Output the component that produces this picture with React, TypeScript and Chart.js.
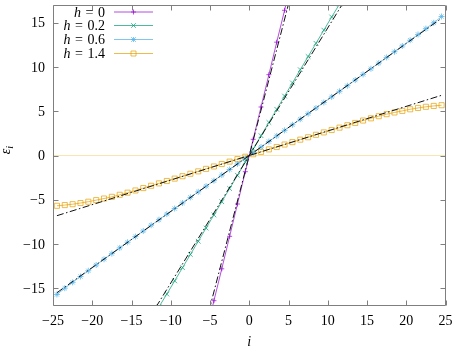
import React, { useEffect, useRef } from "react";
import { Chart, registerables } from "chart.js";

Chart.register(...registerables);

// lattice sites
const iValues = [
  -24.5, -23.5, -22.5, -21.5, -20.5, -19.5, -18.5, -17.5, -16.5, -15.5, -14.5, -13.5, -12.5,
  -11.5, -10.5, -9.5, -8.5, -7.5, -6.5, -5.5, -4.5, -3.5, -2.5, -1.5, -0.5,
  0.5, 1.5, 2.5, 3.5, 4.5, 5.5, 6.5, 7.5, 8.5, 9.5, 10.5, 11.5, 12.5,
  13.5, 14.5, 15.5, 16.5, 17.5, 18.5, 19.5, 20.5, 21.5, 22.5, 23.5, 24.5,
];

// h = 0
const epsH0 = [
  -89.4, -85.8, -82.1, -78.5, -74.8, -71.2, -67.5, -63.9, -60.2, -56.6, -52.9, -49.3, -45.6,
  -42.0, -38.3, -34.7, -31.0, -27.4, -23.7, -20.1, -16.4, -12.8, -9.13, -5.48, -1.83,
  1.83, 5.48, 9.13, 12.8, 16.4, 20.1, 23.7, 27.4, 31.0, 34.7, 38.3, 42.0, 45.6,
  49.3, 52.9, 56.6, 60.2, 63.9, 67.5, 71.2, 74.8, 78.5, 82.1, 85.8, 89.4,
];

// h = 0.2
const epsH02 = [
  -36.5, -35.0, -33.5, -32.0, -30.5, -29.1, -27.6, -26.1, -24.6, -23.1, -21.6, -20.1, -18.6,
  -17.1, -15.65, -14.16, -12.67, -11.18, -9.69, -8.2, -6.71, -5.22, -3.73, -2.24, -0.75,
  0.75, 2.24, 3.73, 5.22, 6.71, 8.2, 9.69, 11.18, 12.67, 14.16, 15.65, 17.1, 18.6,
  20.1, 21.6, 23.1, 24.6, 26.1, 27.6, 29.1, 30.5, 32.0, 33.5, 35.0, 36.5,
];

// h = 0.6
const epsH06 = [
  -15.7, -14.99, -14.33, -13.67, -13.02, -12.37, -11.72, -11.08, -10.44, -9.8, -9.16, -8.52, -7.88,
  -7.25, -6.62, -5.99, -5.36, -4.73, -4.1, -3.47, -2.84, -2.21, -1.58, -0.95, -0.32,
  0.32, 0.95, 1.58, 2.21, 2.84, 3.47, 4.1, 4.73, 5.36, 5.99, 6.62, 7.25, 7.88,
  8.52, 9.16, 9.8, 10.44, 11.08, 11.72, 12.37, 13.02, 13.67, 14.33, 14.99, 15.7,
];

// h = 1.4
const epsH14 = [
  -5.68, -5.6, -5.5, -5.37, -5.22, -5.04, -4.86, -4.67, -4.44, -4.2, -3.95, -3.68, -3.42,
  -3.15, -2.88, -2.61, -2.34, -2.06, -1.79, -1.51, -1.24, -0.96, -0.69, -0.41, -0.14,
  0.14, 0.41, 0.69, 0.96, 1.24, 1.51, 1.79, 2.06, 2.34, 2.61, 2.88, 3.15, 3.42,
  3.68, 3.95, 4.2, 4.44, 4.67, 4.86, 5.04, 5.22, 5.37, 5.5, 5.6, 5.68,
];

// theoretical straight lines (end points)
const theoryI = [-24.5, 24.5];
const theoryH0 = [-83.8, 83.8];
const theoryH02 = [-35.3, 35.3];
const theoryH06 = [-15.5, 15.5];
const theoryH14 = [-6.8, 6.8];

const zeroI = [-25, 25];
const zeroEps = [0, 0];

const xTickValues = [-25, -20, -15, -10, -5, 0, 5, 10, 15, 20, 25];
const xTickLabels = ["−25", "−20", "−15", "−10", "−5", "0", "5", "10", "15", "20", "25"];
const yTickValues = [-15, -10, -5, 0, 5, 10, 15];
const yTickLabels = ["−15", "−10", "−5", "0", "5", "10", "15"];

const legendValues = ["0", "0.2", "0.6", "1.4"];
const seriesColors = ["rgba(148,0,211,0.7)", "rgba(0,158,115,0.7)", "rgba(86,180,233,0.75)", "rgba(230,159,0,0.7)"];
const seriesStyles = ["cross", "crossRot", "star", "rect"];

const FONT = "'Liberation Serif', 'Times New Roman', serif";

function pts(xs: number[], ys: number[]) {
  return xs.map((x, k) => ({ x, y: ys[k] }));
}

function drawMarker(ctx: CanvasRenderingContext2D, style: string, x: number, y: number) {
  ctx.beginPath();
  if (style === "cross" || style === "star") {
    ctx.moveTo(x - 2.5, y);
    ctx.lineTo(x + 2.5, y);
    ctx.moveTo(x, y - 2.5);
    ctx.lineTo(x, y + 2.5);
  }
  if (style === "crossRot" || style === "star") {
    const d = 2.3;
    ctx.moveTo(x - d, y - d);
    ctx.lineTo(x + d, y + d);
    ctx.moveTo(x - d, y + d);
    ctx.lineTo(x + d, y - d);
  }
  if (style === "rect") {
    ctx.rect(x - 2.5, y - 2.5, 5, 5);
  }
  ctx.stroke();
}

const framePlugin = {
  id: "gnuFrame",
  afterDraw(chart: any) {
    const ctx: CanvasRenderingContext2D = chart.ctx;
    const { left, right, top, bottom } = chart.chartArea;
    const xs = chart.scales.x;
    const ys = chart.scales.y;
    ctx.save();
    ctx.strokeStyle = "#7f7f7f";
    ctx.lineWidth = 1;
    const L = Math.round(left) + 0.5;
    const R = Math.round(right) - 0.5;
    const T = Math.round(top) + 0.5;
    const B = Math.round(bottom) - 0.5;
    ctx.beginPath();
    ctx.rect(L, T, R - L, B - T);
    ctx.stroke();
    const tl = 5;
    ctx.beginPath();
    xTickValues.forEach((v) => {
      const px = Math.round(xs.getPixelForValue(v)) + 0.5;
      ctx.moveTo(px, B);
      ctx.lineTo(px, B - tl);
      ctx.moveTo(px, T);
      ctx.lineTo(px, T + tl);
    });
    yTickValues.forEach((v) => {
      const py = Math.round(ys.getPixelForValue(v)) + 0.5;
      ctx.moveTo(L, py);
      ctx.lineTo(L + tl, py);
      ctx.moveTo(R, py);
      ctx.lineTo(R - tl, py);
    });
    ctx.stroke();

    // tick labels
    ctx.fillStyle = "#000";
    ctx.font = `14px ${FONT}`;
    ctx.textBaseline = "middle";
    ctx.textAlign = "center";
    xTickValues.forEach((v, k) => {
      const px = xs.getPixelForValue(v);
      ctx.fillText(xTickLabels[k], px, bottom + 15);
    });
    ctx.textAlign = "right";
    yTickValues.forEach((v, k) => {
      const py = ys.getPixelForValue(v);
      ctx.fillText(yTickLabels[k], left - 8, py + 1);
    });

    // axis titles
    ctx.textAlign = "center";
    ctx.textBaseline = "alphabetic";
    ctx.font = `italic 14px ${FONT}`;
    ctx.fillText("i", (left + right) / 2, 346);

    ctx.save();
    ctx.translate(10, (top + bottom) / 2 - 6);
    ctx.rotate(-Math.PI / 2);
    ctx.textAlign = "left";
    ctx.font = `italic 14px ${FONT}`;
    const ew = ctx.measureText("ε").width;
    ctx.fillText("ε", -ew / 2 - 2, 0);
    ctx.font = `italic 10px ${FONT}`;
    ctx.fillText("i", ew / 2 - 2, 3);
    ctx.restore();

    // legend
    const rowY = [12, 25.5, 39.5, 53.5];
    const gap = 4.5;
    legendValues.forEach((val, k) => {
      const y = rowY[k];
      ctx.fillStyle = "#000";
      ctx.textBaseline = "middle";
      ctx.textAlign = "left";
      ctx.font = `14px ${FONT}`;
      const vw = ctx.measureText(val).width;
      const eqw = ctx.measureText("=").width;
      ctx.font = `italic 14px ${FONT}`;
      const hw = ctx.measureText("h").width;
      const xEnd = 105;
      const xVal = xEnd - vw;
      const xEq = xVal - gap - eqw;
      const xH = xEq - gap - hw;
      ctx.fillText("h", xH, y + 1);
      ctx.font = `14px ${FONT}`;
      ctx.fillText("=", xEq, y + 1);
      ctx.fillText(val, xVal, y + 1);
      ctx.strokeStyle = seriesColors[k];
      ctx.lineWidth = 1;
      ctx.beginPath();
      ctx.moveTo(114, y);
      ctx.lineTo(153, y);
      ctx.stroke();
      drawMarker(ctx, seriesStyles[k], 133.5, y);
    });
    ctx.restore();
  },
};

export default function App() {
  const ref = useRef<HTMLCanvasElement | null>(null);
  useEffect(() => {
    if (!ref.current) return;
    const theory = (ys: number[]) => ({
      data: pts(theoryI, ys),
      showLine: true,
      borderColor: "#111111",
      borderWidth: 1,
      borderDash: [7, 2.5, 1.5, 2.5],
      pointRadius: 0,
    });
    const series = (ys: number[], k: number, r: number) => ({
      data: pts(iValues, ys),
      showLine: true,
      borderColor: seriesColors[k],
      borderWidth: 1,
      pointStyle: seriesStyles[k],
      pointRadius: r,
      pointBorderColor: seriesColors[k],
      pointBackgroundColor: "rgba(0,0,0,0)",
      pointBorderWidth: 1,
    });
    const chart = new Chart(ref.current, {
      type: "scatter",
      data: {
        datasets: [
          theory(theoryH0),
          theory(theoryH02),
          theory(theoryH06),
          theory(theoryH14),
          series(epsH0, 0, 2.5),
          series(epsH02, 1, 3.3),
          series(epsH06, 2, 3),
          series(epsH14, 3, 3.6),
          {
            data: pts(zeroI, zeroEps),
            showLine: true,
            borderColor: "rgba(240,200,80,0.45)",
            borderWidth: 1,
            pointRadius: 0,
          },
        ] as any,
      },
      options: {
        animation: false,
        responsive: false,
        devicePixelRatio: 1,
        events: [],
        layout: { padding: { left: 53, right: 7.5, top: 0.5, bottom: 41 } },
        scales: {
          x: { type: "linear", min: -25, max: 25, display: false },
          y: { type: "linear", min: -17, max: 17, display: false },
        },
        plugins: { legend: { display: false }, tooltip: { enabled: false } },
      },
      plugins: [framePlugin],
    });
    return () => chart.destroy();
  }, []);
  return (
    <div style={{ position: "fixed", left: 0, top: 0, width: 453, height: 347, background: "#fff" }}>
      <canvas ref={ref} width={453} height={347} style={{ display: "block" }} />
    </div>
  );
}
